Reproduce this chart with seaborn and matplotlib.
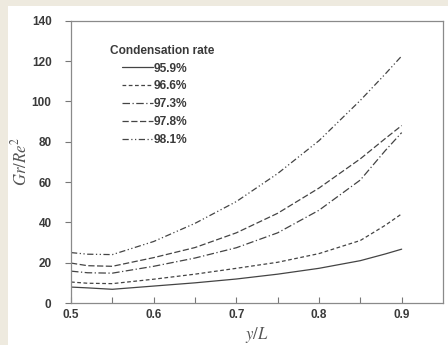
import numpy as np
import pandas as pd
import matplotlib
matplotlib.use("Agg")
import matplotlib.pyplot as plt
import seaborn as sns
from matplotlib.patches import Rectangle
from matplotlib.lines import Line2D

# ---------------- data ----------------
y_over_L = [0.50, 0.52, 0.55, 0.60, 0.65, 0.70, 0.75, 0.80, 0.85, 0.88, 0.90]

rate_959 = [7.9, 7.5, 6.8, 8.4, 10.0, 11.9, 14.3, 17.2, 21.0, 24.3, 26.7]
rate_966 = [10.4, 9.8, 9.6, 11.8, 14.3, 17.2, 20.2, 24.5, 31.0, 38.5, 44.2]
rate_973 = [15.8, 15.0, 14.8, 18.2, 22.3, 27.4, 34.8, 46.0, 61.0, 75.5, 84.5]
rate_978 = [19.8, 18.5, 18.2, 22.5, 27.5, 34.8, 44.5, 57.0, 71.5, 81.5, 88.0]
rate_981 = [25.0, 24.2, 24.0, 30.5, 39.5, 50.3, 64.2, 80.5, 100.5, 113.5, 122.5]

labels = ["95.9%", "96.6%", "97.3%", "97.8%", "98.1%"]
series = [rate_959, rate_966, rate_973, rate_978, rate_981]

dash_styles = [
    "-",
    (0, (3, 2)),
    (0, (6, 2, 1, 2)),
    (0, (5, 2)),
    (0, (5, 2, 1, 2, 1, 2)),
]

# ---------------- figure ----------------
sns.set_style("white")
plt.rcParams["font.family"] = ["Liberation Sans", "DejaVu Sans"]
plt.rcParams["mathtext.fontset"] = "stix"

fig = plt.figure(figsize=(4.48, 3.45), dpi=100)
fig.patch.set_facecolor("#eeeadf")
# white panel inside the beige border
fig.add_artist(Rectangle((8 / 448, 0), 1, 1 - 6 / 345,
                         transform=fig.transFigure,
                         facecolor="white", edgecolor="none", zorder=-5))

ax = fig.add_axes([71 / 448, 42 / 345, 372 / 448, 282.3 / 345])
ax.set_zorder(2)
ax.set_facecolor("white")

line_col = "#444444"
txt_col = "#3a3a3a"
for lab, vals, ls in zip(labels, series, dash_styles):
    df = pd.DataFrame({"x": y_over_L, "y": vals})
    sns.lineplot(data=df, x="x", y="y", ax=ax, color=line_col,
                 linewidth=0.9, linestyle=ls)

ax.set_xlim(0.5, 0.95)
ax.set_ylim(0, 140)
ax.set_xticks([0.5, 0.6, 0.7, 0.8, 0.9])
ax.set_xticks([0.55, 0.65, 0.75, 0.85], minor=True)
ax.set_yticks(np.arange(0, 141, 20))

ax.tick_params(axis="x", which="both", direction="in", length=4,
               width=0.8, color="#777777", labelsize=8.5,
               labelcolor=txt_col, pad=4, bottom=True)
ax.tick_params(axis="y", direction="out", length=4, width=0.8,
               color="#777777", labelsize=8.5, labelcolor=txt_col, pad=10,
               left=True)
for lbl in ax.get_xticklabels() + ax.get_yticklabels():
    lbl.set_fontweight("bold")

for sp in ax.spines.values():
    sp.set_visible(True)
    sp.set_color("#8a8a8a")
    sp.set_linewidth(0.9)

ax.set_xlabel(r"$y/L$", fontsize=12, color="#555555", labelpad=3)
ax.set_ylabel(r"$Gr/Re^2$", fontsize=12, color="#555555", labelpad=2)

# legend
ax.text(0.105, 0.893, "Condensation rate", transform=ax.transAxes,
        fontsize=8.6, color=txt_col, fontweight="bold", ha="left",
        va="center")
handles = [Line2D([0], [0], color=line_col, linewidth=0.9, linestyle=ls)
           for ls in dash_styles]
leg = ax.legend(handles, labels, loc="upper left",
                bbox_to_anchor=(0.12, 0.873), frameon=False,
                fontsize=8.6, handlelength=2.6, handletextpad=0.1,
                labelspacing=0.5, borderpad=0.0)
for t in leg.get_texts():
    t.set_color(txt_col)
    t.set_fontweight("bold")

fig.savefig("out.png", dpi=100, facecolor=fig.get_facecolor())
